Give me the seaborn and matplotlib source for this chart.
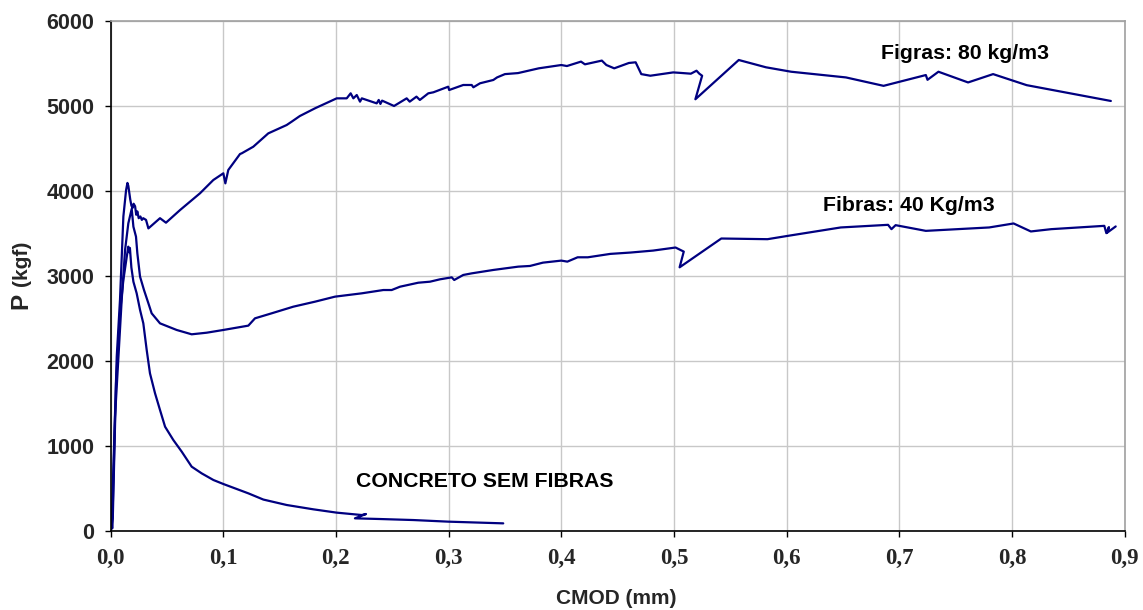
import matplotlib
matplotlib.use("Agg")
import matplotlib.pyplot as plt
import seaborn as sns
import pandas as pd

# ---- data ----
x_80 = [0.0, 0.0015, 0.001, 0.0055, 0.0084, 0.0114, 0.0138, 0.0150, 0.0158, 0.0175, 0.0185,
        0.0195, 0.0205, 0.0218, 0.0228, 0.0238, 0.025, 0.0265, 0.0278, 0.029, 0.0315, 0.0336,
        0.0439, 0.0492, 0.0617, 0.0794, 0.0912, 0.1001, 0.1019, 0.1045, 0.1149, 0.1164, 0.1267,
        0.14, 0.1563, 0.1608, 0.168, 0.1815, 0.2007, 0.2096, 0.2131, 0.2155, 0.2185, 0.2214,
        0.223, 0.2362, 0.238, 0.2395, 0.241, 0.2516, 0.2628, 0.2655, 0.2715, 0.2745, 0.282,
        0.2865, 0.2997, 0.3005, 0.313, 0.3205, 0.322, 0.3279, 0.3397, 0.343, 0.350, 0.3616,
        0.380, 0.4, 0.405, 0.4175, 0.421, 0.436, 0.44, 0.447, 0.460, 0.466, 0.471, 0.479,
        0.4993, 0.505, 0.515, 0.520, 0.5225, 0.525, 0.519, 0.5575, 0.5817, 0.604, 0.6526,
        0.686, 0.7235, 0.725, 0.7347, 0.761, 0.7832, 0.813, 0.8877]
p_80 = [0, 180, 60, 2050, 2720, 3700, 4010, 4095, 4060, 3900, 3830,
        3800, 3850, 3820, 3720, 3760, 3680, 3700, 3660, 3680, 3660, 3560,
        3680, 3627, 3776, 3973, 4129, 4208, 4090, 4247, 4435, 4443, 4521,
        4678, 4776, 4816, 4882, 4973, 5090, 5090, 5149, 5090, 5129, 5051,
        5090, 5031, 5071, 5024, 5063, 5000, 5090, 5051, 5110, 5071, 5149,
        5161, 5227, 5188, 5247, 5247, 5220, 5267, 5306, 5336, 5375, 5387,
        5443, 5482, 5470, 5522, 5490, 5534, 5482, 5443, 5506, 5514, 5375, 5356,
        5395, 5390, 5380, 5415, 5380, 5356, 5079, 5541, 5455, 5403, 5336,
        5237, 5364, 5308, 5403, 5277, 5375, 5245, 5059]

x_40 = [0.0, 0.001, 0.0015, 0.004, 0.0099, 0.0129, 0.0158, 0.0188, 0.0203, 0.0226, 0.0238,
        0.0262, 0.0297, 0.0336, 0.0365, 0.0439, 0.0587, 0.072, 0.0854, 0.1001, 0.1223,
        0.1282, 0.143, 0.1622, 0.1815, 0.1992, 0.2229, 0.2421, 0.2495, 0.2569, 0.2731,
        0.2835, 0.2924, 0.3028, 0.305, 0.313, 0.3205, 0.3397, 0.3618, 0.3722, 0.3837,
        0.4, 0.4054, 0.4145, 0.4236, 0.4435, 0.4616, 0.4815, 0.5014, 0.5087, 0.505,
        0.542, 0.583, 0.601, 0.648, 0.690, 0.693, 0.6967, 0.7235, 0.7797, 0.8014,
        0.8167, 0.8348, 0.8819, 0.8837, 0.886, 0.8845, 0.892]
p_40 = [0, 120, 30, 1345, 2718, 3306, 3620, 3790, 3580, 3463, 3267,
        2992, 2835, 2679, 2561, 2443, 2365, 2314, 2333, 2365, 2416,
        2502, 2561, 2639, 2698, 2757, 2796, 2835, 2835, 2874, 2921,
        2933, 2961, 2984, 2953, 3012, 3031, 3071, 3110, 3118, 3157,
        3181, 3169, 3220, 3220, 3260, 3276, 3299, 3335, 3287, 3102,
        3441, 3433, 3472, 3571, 3602, 3551, 3598, 3531, 3571, 3618,
        3524, 3551, 3590, 3504, 3575, 3510, 3583]

x_0 = [0.0, 0.0008, 0.0012, 0.002, 0.0049, 0.0084, 0.0114, 0.0144, 0.0158, 0.0165, 0.0172,
       0.0185, 0.0203, 0.0232, 0.0262, 0.0291, 0.0321, 0.035, 0.0395, 0.0439, 0.0484,
       0.0557, 0.0632, 0.072, 0.0809, 0.0913, 0.1001, 0.1223, 0.1356, 0.1563, 0.18,
       0.2007, 0.2229, 0.2267, 0.2169, 0.2391, 0.2687, 0.2997, 0.3485]
p_0 = [0, 180, 40, 150, 1741, 2565, 2953, 3227, 3345, 3280, 3330,
       3100, 2933, 2796, 2600, 2443, 2129, 1855, 1620, 1424, 1227,
       1071, 933, 757, 678, 600, 553, 443, 370, 306, 255,
       216, 188, 200, 149, 141, 129, 110, 90]

series_names = ["Figras: 80 kg/m3", "Fibras: 40 Kg/m3", "CONCRETO SEM FIBRAS"]
x_ticks = [0.0, 0.1, 0.2, 0.3, 0.4, 0.5, 0.6, 0.7, 0.8, 0.9]
x_tick_labels = ["0,0", "0,1", "0,2", "0,3", "0,4", "0,5", "0,6", "0,7", "0,8", "0,9"]
y_ticks = [0, 1000, 2000, 3000, 4000, 5000, 6000]

# ---- style ----
sns.set_theme(style="whitegrid")
plt.rcParams['font.family'] = ['Liberation Sans', 'DejaVu Sans']

fig, ax = plt.subplots(figsize=(11.43, 6.10), dpi=100)
fig.subplots_adjust(left=0.0967, right=0.984, top=0.9656, bottom=0.1295)
ax.set_facecolor("white")

line_color = "#000080"
for xs, ps in [(x_80, p_80), (x_40, p_40), (x_0, p_0)]:
    df = pd.DataFrame({"x": xs, "p": ps})
    sns.lineplot(data=df, x="x", y="p", sort=False, estimator=None,
                 color=line_color, linewidth=1.6, ax=ax)

ax.set_xlim(0, 0.9)
ax.set_ylim(0, 6000)
ax.set_xticks(x_ticks)
ax.set_xticklabels(x_tick_labels, fontfamily="Liberation Serif",
                   fontweight="bold", fontsize=16.5)
ax.set_yticks(y_ticks)
ax.set_yticklabels([str(v) for v in y_ticks], fontweight="bold", fontsize=15.5)
ax.tick_params(axis="both", which="major", direction="out", length=4.5,
               width=1, color="black", bottom=True, left=True)
ax.tick_params(axis="y", pad=7)
ax.tick_params(axis="x", pad=8)

ax.grid(True, color="#c8c8c8", linewidth=1)
for side in ["left", "bottom"]:
    ax.spines[side].set_color("black")
    ax.spines[side].set_linewidth(1.2)
for side in ["top", "right"]:
    ax.spines[side].set_color("#a0a0a0")
    ax.spines[side].set_linewidth(1.2)

ax.set_xlabel("")
ax.set_ylabel("")

# series labels
ax.text(0.758, 5549, series_names[0], ha="center", va="baseline",
        fontsize=15.3, fontweight="bold", color="black")
ax.text(0.7085, 3767, series_names[1], ha="center", va="baseline",
        fontsize=15.3, fontweight="bold", color="black")
ax.text(0.3323, 514, series_names[2], ha="center", va="baseline",
        fontsize=15.3, fontweight="bold", color="black")

# axis titles
fig.text(616.5 / 1143, 1 - 599 / 610, "CMOD (mm)", ha="center", va="center",
         fontsize=15, fontweight="bold")
fig.text(21 / 1143, 1 - 301 / 610, "P", ha="center", va="center", rotation=90,
         fontsize=17.5, fontweight="bold")
fig.text(22 / 1143, 1 - 263 / 610, "(kgf)", ha="center", va="center", rotation=90,
         fontsize=15, fontweight="bold")

fig.savefig("out.png", dpi=100, facecolor="white")
